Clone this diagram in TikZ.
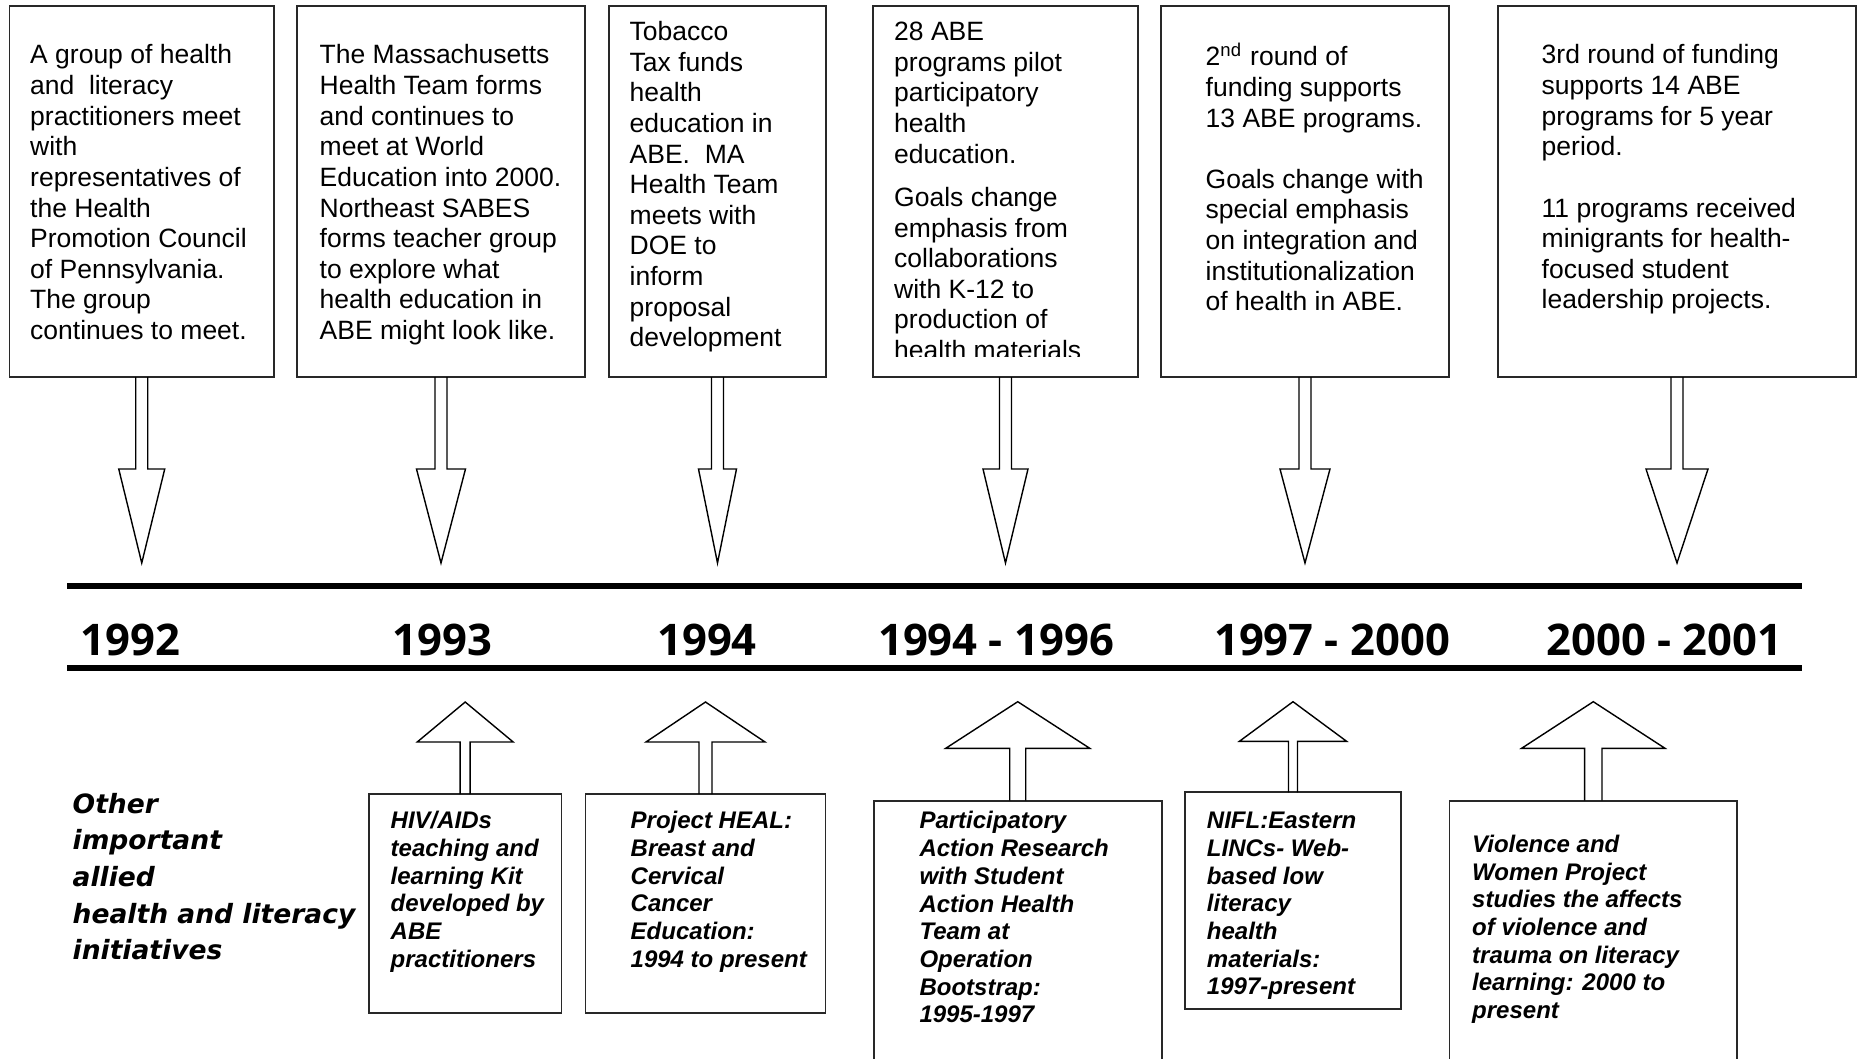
\documentclass[tikz,border=0pt]{standalone}
\usepackage{fontspec}
\setmainfont{Liberation Sans}
\newfontfamily\yearfont{Open Sans}
\newfontfamily\sidefont{DejaVu Sans}
\usetikzlibrary{calc,positioning}
\definecolor{BoxLine}{RGB}{40,40,40}
\newcommand{\downblock}[2]{\draw[blockline] ($(#1.south)+(-0.06,0)$) -- ++(0,-0.92) -- ++(0.06-#2,0) -- ++(#2,-0.94) -- ++(#2,0.94) -- ++(0.06-#2,0) -- ++(0,0.92);}
\newcommand{\upblock}[5]{\draw[blockline] ($(#1.north)+(-#2,0)$) -- ++(0,#4) -- ++(#2-#3,0) -- ++(#3,#5) -- ++(#3,-#5) -- ++(#2-#3,0) -- ++(0,-#4);}

\begin{document}
\begin{tikzpicture}[tbox/.style={draw=BoxLine,line width=0.5pt,minimum height=3.71cm,inner sep=0pt,outer sep=0pt},
  bbox/.style={draw=BoxLine,line width=0.5pt,inner sep=0pt,outer sep=0pt},
  toptext/.style={anchor=north west,align=left,inner sep=0pt,font=\fontsize{7.54}{8.71}\selectfont},
  bottext/.style={anchor=north west,align=left,inner sep=0pt,font=\fontsize{6.83}{7.88}\selectfont\bfseries\itshape},
  yearlabel/.style={inner sep=0pt,font=\yearfont\fontsize{12.4}{14}\selectfont\bfseries},
  blockline/.style={draw=black,line width=0.4pt},
  timeline/.style={line width=1.7pt}]
\useasboundingbox (0,0) rectangle (18.58,10.58);
\clip (0,0) rectangle (18.58,10.58);
% boxes above the time line
\foreach \n/\cx/\w in {1/1.4175/2.645,2/4.41/2.88,3/7.175/2.17,4/10.055/2.65,5/13.05/2.88,6/16.77/3.58}{\node[tbox,minimum width=\w cm] (tb\n) at (\cx,8.665) {};}
\node[toptext] (tt1) at ($(tb1.north west)+(0.20,-0.3585)$) {\strut A group of health\\and~ literacy\\practitioners meet\\with\\representatives of\\the Health\\Promotion Council\\of Pennsylvania.\\The group\\continues to meet.};
\node[toptext] (tt2) at ($(tb2.north west)+(0.22,-0.3585)$) {\strut The Massachusetts\\Health Team forms\\and continues to\\meet at World\\Education into 2000.\\Northeast SABES\\forms teacher group\\to explore what\\health education in\\ABE might look like.};
\node[toptext] (tt3) at ($(tb3.north west)+(0.20,-0.1255)$) {\strut Tobacco\\Tax funds\\health\\education in\\ABE.~ MA\\Health Team\\meets with\\DOE to\\inform\\proposal\\development};
\begin{scope}
\clip (tb4.north west) rectangle ($(tb4.north east)+(0,-3.50)$);
\node[toptext] (tt4) at ($(tb4.north west)+(0.205,-0.1255)$) {\strut 28 ABE\\programs pilot\\participatory\\health\\education.\\[3.6pt]Goals change\\emphasis from\\collaborations\\with K-12 to\\production of\\health materials};
\end{scope}
\node[toptext] (tt5) at ($(tb5.north west)+(0.44,-0.3585)$) {\strut 2\textsuperscript{nd} round of\\funding supports\\13 ABE programs.\\[8.71pt]Goals change with\\special emphasis\\on integration and\\institutionalization\\of health in ABE.};
\node[toptext] (tt6) at ($(tb6.north west)+(0.43,-0.3585)$) {\strut 3rd round of funding\\supports 14 ABE\\programs for 5 year\\period.\\[8.71pt]11 programs received\\minigrants for health-\\focused student\\leadership projects.};
\foreach \n/\hw in {1/0.23,2/0.245,3/0.19,4/0.225,5/0.25,6/0.31}{\downblock{tb\n}{\hw}}
% time line
\draw[timeline] (0.67,4.723) -- (18.02,4.723);
\draw[timeline] (0.67,3.90) -- (18.02,3.90);
\foreach \x/\yr [count=\i] in {1.305/1992,4.425/1993,7.07/1994,9.96/1994 - 1996,13.32/1997 - 2000,16.645/2000 - 2001}{\node[yearlabel] (yr\i) at (\x,4.185) {\yr};}
% allied initiatives
\node[anchor=north west,align=left,inner sep=0pt,font=\sidefont\fontsize{7.55}{10.4}\selectfont\bfseries\itshape] (other) at (0.72,2.709) {\strut Other\\important\\allied\\health and literacy\\initiatives};
\node[bbox,minimum width=1.924cm,minimum height=2.19cm] (bb1) at (4.652,1.545) {};
\node[bbox,minimum width=2.40cm,minimum height=2.19cm] (bb2) at (7.055,1.545) {};
\node[bbox,minimum width=2.879cm,minimum height=2.873cm] (bb3) at (10.1775,1.1365) {};
\node[bbox,minimum width=2.159cm,minimum height=2.167cm] (bb4) at (12.93,1.5735) {};
\node[bbox,minimum width=2.874cm,minimum height=2.873cm] (bb5) at (15.933,1.1365) {};
\node[bottext] (bt1) at ($(bb1.north west)+(0.21,-0.146)$) {\strut HIV/AIDs\\teaching and\\learning Kit\\developed by\\ABE\\practitioners};
\node[bottext] (bt2) at ($(bb2.north west)+(0.445,-0.146)$) {\strut Project HEAL:\\Breast and\\Cervical\\Cancer\\Education:\\1994 to present};
\node[bottext] (bt3) at ($(bb3.north west)+(0.45,-0.082)$) {\strut Participatory\\Action Research\\with Student\\Action Health\\Team at\\Operation\\Bootstrap:\\1995-1997};
\node[bottext] (bt4) at ($(bb4.north west)+(0.212,-0.163)$) {\strut NIFL:Eastern\\LINCs- Web-\\based low\\literacy\\health\\materials:\\1997-present};
\node[bottext] (bt5) at ($(bb5.north west)+(0.219,-0.316)$) {\strut Violence and\\Women Project\\studies the affects\\of violence and\\trauma on literacy\\learning: 2000 to\\present};
\upblock{bb1}{0.05}{0.48}{0.52}{0.40}
\upblock{bb2}{0.065}{0.595}{0.52}{0.40}
\upblock{bb3}{0.08}{0.72}{0.524}{0.466}
\upblock{bb4}{0.045}{0.536}{0.51}{0.396}
\upblock{bb5}{0.087}{0.717}{0.524}{0.466}
\end{tikzpicture}
\end{document}
